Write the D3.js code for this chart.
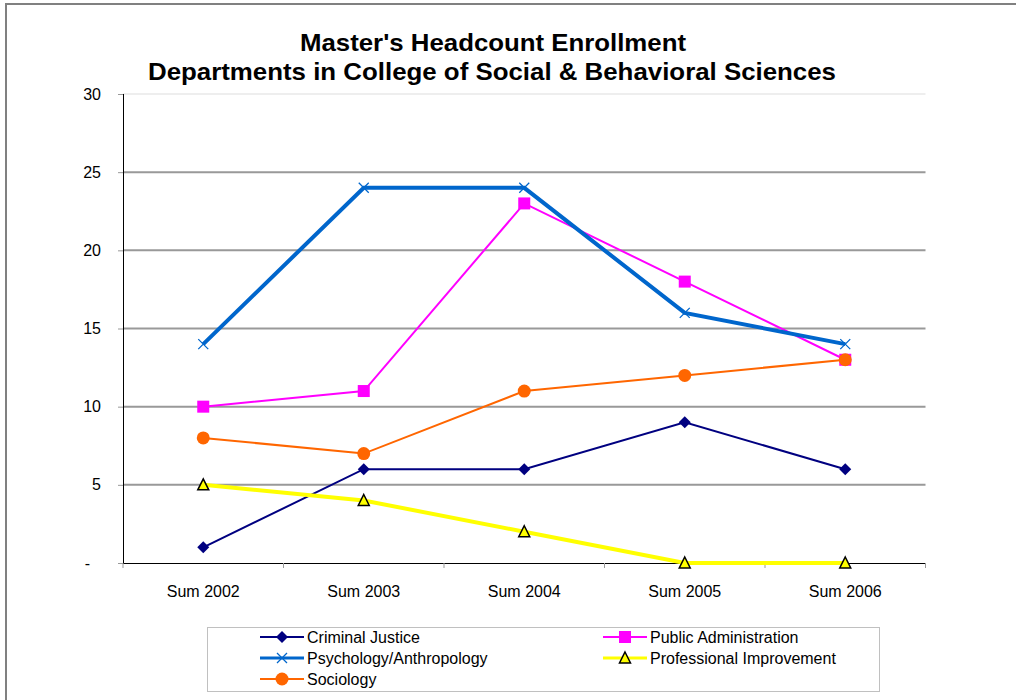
<!DOCTYPE html>
<html>
<head>
<meta charset="utf-8">
<script src="https://cdn.jsdelivr.net/npm/d3@7"></script>
<style>
  body { margin: 0; background: #fff; }
  svg { font-family: "Liberation Sans", Arial, sans-serif; }
</style>
</head>
<body>
<div id="chart"></div>
<script>
// chart data
var categories = ["Sum 2002", "Sum 2003", "Sum 2004", "Sum 2005", "Sum 2006"];
var criminalJustice = [1, 6, 6, 9, 6];
var publicAdmin = [10, 11, 23, 18, 13];
var psychAnthro = [14, 24, 24, 16, 14];
var profImprovement = [5, 4, 2, 0, 0];
var sociology = [8, 7, 11, 12, 13];
var yTicks = [0, 5, 10, 15, 20, 25, 30];

var series = [
    { name: "Criminal Justice", values: criminalJustice, color: "#000080", width: 2, marker: "diamond" },
    { name: "Public Administration", values: publicAdmin, color: "#FF00FF", width: 2, marker: "square" },
    { name: "Psychology/Anthropology", values: psychAnthro, color: "#0066CC", width: 4, marker: "x" },
    { name: "Professional Improvement", values: profImprovement, color: "#FFFF00", width: 4, marker: "triangle" },
    { name: "Sociology", values: sociology, color: "#FF6600", width: 2, marker: "circle" }
];

var svgWidth = 1016, svgHeight = 700;
var plot = { left: 123, right: 925.5, top: 94, bottom: 563 };

var svg = d3.select("#chart")
            .append("svg")
            .attr("width", svgWidth)
            .attr("height", svgHeight);

// outer chart frame
svg.append("rect")
   .attr("x", 6).attr("y", 4)
   .attr("width", 1030).attr("height", 720)
   .attr("fill", "none")
   .attr("stroke", "#808080")
   .attr("stroke-width", 2);

// scales
var x = d3.scaleBand()
          .domain(categories)
          .range([plot.left, plot.right]);
var y = d3.scaleLinear()
          .domain([0, 30])
          .range([plot.bottom, plot.top]);

// gridlines
svg.append("g")
   .selectAll("line")
   .data(yTicks.filter(d => d > 0))
   .enter()
   .append("line")
   .attr("x1", plot.left).attr("x2", plot.right)
   .attr("y1", d => y(d)).attr("y2", d => y(d))
   .attr("stroke", d => d === 30 ? "#dddddd" : "#999999")
   .attr("stroke-width", d => d === 30 ? 1 : 2);

// y axis
var yAxis = d3.axisLeft(y)
              .tickValues(yTicks)
              .tickSize(5)
              .tickPadding(17)
              .tickFormat(d => d === 0 ? "-" : d);
var yG = svg.append("g")
            .attr("transform", `translate(${plot.left},0)`)
            .call(yAxis);
yG.select(".domain").attr("stroke", "#000").attr("d", `M0.5,${plot.top}V${plot.bottom}`);
yG.selectAll(".tick line").attr("stroke", "#999");
yG.selectAll(".tick text")
  .attr("font-size", 16)
  .attr("fill", "#000")
  .attr("font-family", "Liberation Sans, Arial, sans-serif")
  .attr("dx", d => d === 0 ? -11 : 0);

// x axis
var xAxis = d3.axisBottom(x).tickSize(0).tickPadding(23);
var xG = svg.append("g")
            .attr("transform", `translate(0,${plot.bottom})`)
            .call(xAxis);
xG.select(".domain").attr("stroke", "#000").attr("d", `M${plot.left},0.5H${plot.right}`);
xG.selectAll(".tick text")
  .attr("font-size", 16)
  .attr("fill", "#000")
  .attr("font-family", "Liberation Sans, Arial, sans-serif");

// category boundary ticks
var bounds = categories.map(c => x(c)).concat([plot.right]);
svg.append("g")
   .selectAll("line")
   .data(bounds)
   .enter()
   .append("line")
   .attr("x1", d => d).attr("x2", d => d)
   .attr("y1", plot.bottom).attr("y2", plot.bottom + 5)
   .attr("stroke", "#999");

var cx = i => x(categories[i]) + x.bandwidth() / 2;

function drawMarker(g, type, color, px, py) {
    if (type === "diamond") {
        g.append("path")
         .attr("d", `M${px},${py - 6}L${px + 6},${py}L${px},${py + 6}L${px - 6},${py}Z`)
         .attr("fill", color);
    } else if (type === "square") {
        g.append("rect")
         .attr("x", px - 6).attr("y", py - 6)
         .attr("width", 12).attr("height", 12)
         .attr("fill", color);
    } else if (type === "x") {
        g.append("path")
         .attr("d", `M${px - 5},${py - 5}L${px + 5},${py + 5}M${px - 5},${py + 5}L${px + 5},${py - 5}`)
         .attr("stroke", color)
         .attr("stroke-width", 1.3);
    } else if (type === "triangle") {
        g.append("path")
         .attr("d", `M${px},${py - 6}L${px + 5.5},${py + 5}L${px - 5.5},${py + 5}Z`)
         .attr("fill", color)
         .attr("stroke", "#000")
         .attr("stroke-width", 1.5);
    } else if (type === "circle") {
        g.append("circle")
         .attr("cx", px).attr("cy", py).attr("r", 6.5)
         .attr("fill", color);
    }
}

// series lines + markers
var line = d3.line()
             .x((d, i) => cx(i))
             .y(d => y(d));

series.forEach(function(s) {
    var g = svg.append("g");
    g.append("path")
     .datum(s.values)
     .attr("d", line)
     .attr("fill", "none")
     .attr("stroke", s.color)
     .attr("stroke-width", s.width);
    s.values.forEach(function(v, i) {
        drawMarker(g, s.marker, s.color, cx(i), y(v));
    });
});

// title
var title = svg.append("text")
               .attr("text-anchor", "middle")
               .attr("font-weight", "bold")
               .attr("font-size", 24);
title.append("tspan").attr("x", 493).attr("y", 51)
     .attr("textLength", 386).attr("lengthAdjust", "spacingAndGlyphs")
     .text("Master's Headcount Enrollment");
title.append("tspan").attr("x", 492).attr("y", 80)
     .attr("textLength", 688).attr("lengthAdjust", "spacingAndGlyphs")
     .text("Departments in College of Social & Behavioral Sciences");

// legend
var legend = svg.append("g");
legend.append("rect")
      .attr("x", 207.5).attr("y", 627.5)
      .attr("width", 672).attr("height", 64)
      .attr("fill", "#fff")
      .attr("stroke", "#c0c0c0");

var legendCols = [260, 603];
var legendRows = [637, 658, 679];
series.forEach(function(s, i) {
    var lx = legendCols[i % 2];
    var ly = legendRows[Math.floor(i / 2)];
    var g = legend.append("g");
    g.append("line")
     .attr("x1", lx).attr("x2", lx + 44)
     .attr("y1", ly).attr("y2", ly)
     .attr("stroke", s.color)
     .attr("stroke-width", s.width === 4 ? 3 : 2);
    drawMarker(g, s.marker, s.color, lx + 22, ly);
    g.append("text")
     .attr("x", lx + 47).attr("y", ly + 6)
     .attr("font-size", 16)
     .text(s.name);
});
</script>
</body>
</html>
